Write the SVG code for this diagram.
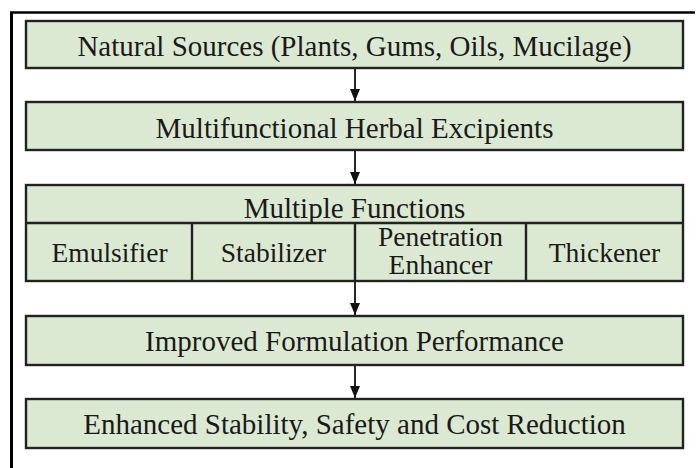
<svg xmlns="http://www.w3.org/2000/svg" width="697" height="468" viewBox="0 0 697 468">
<defs>
<style>
.box{fill:#dce9d2;stroke:#222;stroke-width:2.4}
.div{stroke:#222;stroke-width:2.4;fill:none}
.t{font-family:"Liberation Serif","Times New Roman",serif;font-size:29px;fill:#1a1a1a;text-anchor:middle}
.s{font-size:27.5px}
.c{stroke:#111;stroke-width:1.8;fill:none}
</style>
<marker id="ah" viewBox="0 0 12 10" refX="12" refY="5" markerWidth="12" markerHeight="10" markerUnits="userSpaceOnUse" orient="auto">
<path d="M0,0 L12,5 L0,10 z" fill="#111"/>
</marker>
</defs>
<rect width="697" height="468" fill="#fff"/>
<g id="frame">
<line x1="11.5" y1="12" x2="11.5" y2="468" stroke="#000" stroke-width="3"/>
<line x1="10" y1="12.5" x2="695" y2="12.5" stroke="#000" stroke-width="2.5"/>
</g>
<g id="connectors">
<line class="c" x1="355" y1="68" x2="355" y2="101" marker-end="url(#ah)"/>
<line class="c" x1="355" y1="150" x2="355" y2="184" marker-end="url(#ah)"/>
<line class="c" x1="355" y1="281" x2="355" y2="315" marker-end="url(#ah)"/>
<line class="c" x1="355" y1="365" x2="355" y2="398" marker-end="url(#ah)"/>
</g>
<g id="n1">
<rect class="box" x="26" y="21" width="657" height="47"/>
<text class="t" x="354.5" y="55.5">Natural Sources (Plants, Gums, Oils, Mucilage)</text>
</g>
<g id="n2">
<rect class="box" x="26" y="102" width="657" height="48"/>
<text class="t" x="354.5" y="137.5">Multifunctional Herbal Excipients</text>
</g>
<g id="n3">
<rect class="box" x="26" y="185" width="657" height="96"/>
<line class="div" x1="26" y1="223" x2="683" y2="223"/>
<line class="div" x1="192" y1="223" x2="192" y2="281"/>
<line class="div" x1="355" y1="223" x2="355" y2="281"/>
<line class="div" x1="526" y1="223" x2="526" y2="281"/>
<text class="t" x="354.5" y="217.5">Multiple Functions</text>
</g>
<g id="n3a"><text class="t s" x="109.5" y="261.5">Emulsifier</text></g>
<g id="n3b"><text class="t s" x="273.5" y="261.5">Stabilizer</text></g>
<g id="n3c"><text class="t s" x="440.5" y="246">Penetration</text><text class="t s" x="440.5" y="274">Enhancer</text></g>
<g id="n3d"><text class="t s" x="604.5" y="261.5">Thickener</text></g>
<g id="n4">
<rect class="box" x="26" y="316" width="657" height="49"/>
<text class="t" x="354.5" y="350.5">Improved Formulation Performance</text>
</g>
<g id="n5">
<rect class="box" x="26" y="399" width="657" height="49"/>
<text class="t" x="354.5" y="433.5">Enhanced Stability, Safety and Cost Reduction</text>
</g>
</svg>
